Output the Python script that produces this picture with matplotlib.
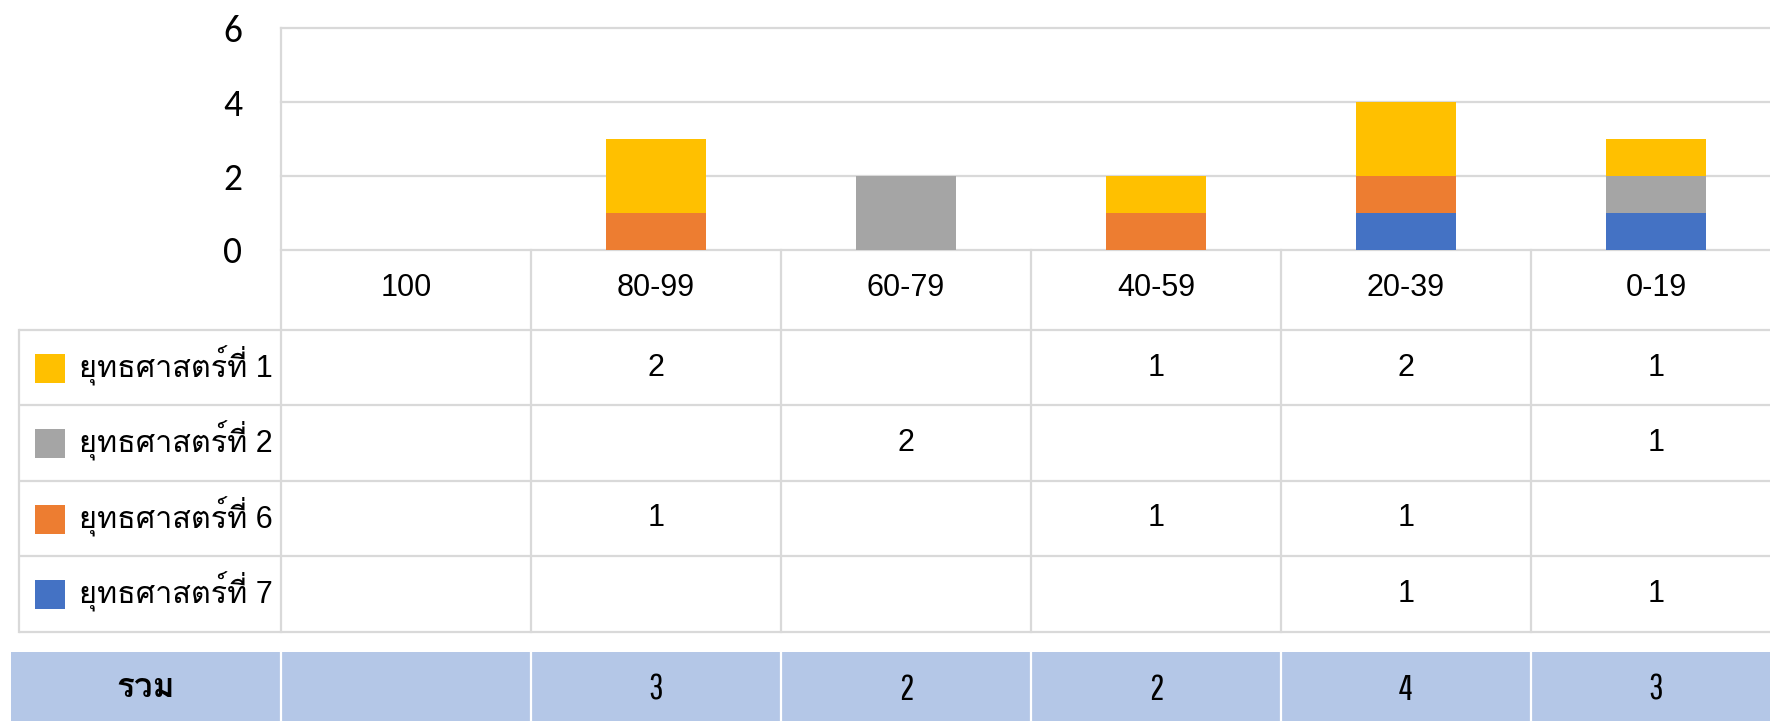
import matplotlib
matplotlib.use("Agg")
import matplotlib.pyplot as plt
from matplotlib import font_manager, transforms
from matplotlib.patches import Rectangle

# ---------------- data ----------------
categories = ["100", "80-99", "60-79", "40-59", "20-39", "0-19"]
series_names = ["ยุทธศาสตร์ที่ 1", "ยุทธศาสตร์ที่ 2", "ยุทธศาสตร์ที่ 6", "ยุทธศาสตร์ที่ 7"]
s1 = [0, 2, 0, 1, 2, 1]
s2 = [0, 0, 2, 0, 0, 1]
s6 = [0, 1, 0, 1, 1, 0]
s7 = [0, 0, 0, 0, 1, 1]
series_values = [s1, s2, s6, s7]
series_colors = ["#FFC000", "#A5A5A5", "#ED7D31", "#4472C4"]
total_label = "รวม"
yticks = [0, 2, 4, 6]

# ---------------- fonts ----------------
available = {f.name for f in font_manager.fontManager.ttflist}
def pick(cands, default="DejaVu Sans"):
    for c in cands:
        if c in available:
            return c
    return default

thai_font = pick(["Loma", "Sarabun", "Noto Sans Thai Looped", "Niramit"])
latin_font = pick(["Liberation Sans", "Arimo", "Noto Sans"])
tick_font = pick(["Carlito", "Lato", "Open Sans"])
cond_font = pick(["Pathway Gothic One", "Roboto Condensed", "Archivo Narrow", "PT Sans Narrow",
                  "Liberation Sans Narrow", "Oswald"], latin_font)

W, H = 1770, 721
fig = plt.figure(figsize=(W / 100, H / 100), dpi=100)

# overlay axes in pixel coordinates (for table frame)
ov = fig.add_axes([0, 0, 1, 1])
ov.set_xlim(0, W)
ov.set_ylim(H, 0)
ov.axis("off")

# bar axes
x0, col_w = 281, 250
y_top, y_zero = 28, 250
ax = fig.add_axes([x0 / W, (H - y_zero) / H, 6 * col_w / W, (y_zero - y_top) / H])
ax.set_facecolor("none")
ax.set_xlim(-0.5, len(categories) - 0.5)
ax.set_ylim(0, 6)

xs = list(range(len(categories)))
# stack order bottom to top: 7, 6, 2, 1
bottom = [0] * len(categories)
for vals, col in zip(reversed(series_values), reversed(series_colors)):
    ax.bar(xs, vals, bottom=bottom, width=0.4, color=col, edgecolor="none", zorder=3)
    bottom = [b + v for b, v in zip(bottom, vals)]

grid_c = "#D9D9D9"
ax.set_yticks(yticks)
ax.set_yticklabels([str(t) for t in yticks], fontfamily=tick_font, fontsize=27, color="#000000")
ax.tick_params(axis="y", length=0, pad=28)
ax.set_xticks([])
ax.yaxis.grid(True, color=grid_c, linewidth=1.6)
for gl in ax.get_ygridlines():
    gl.set_clip_on(False)
ax.set_axisbelow(True)
for s in ["top", "right", "bottom", "left"]:
    ax.spines[s].set_visible(False)

blend = transforms.blended_transform_factory(ax.transData, ov.transData)

# table geometry (pixels)
row_edges = [330, 405, 481, 556, 632]
lw = 1.6
for y in row_edges:
    ov.plot([19, W + 20], [y, y], color=grid_c, lw=lw, solid_capstyle="butt")
ov.plot([19, 19], [row_edges[0], row_edges[-1]], color=grid_c, lw=lw)
for i in range(len(categories) + 1):
    ytop = y_top if i == 0 else y_zero
    ov.plot([i - 0.5, i - 0.5], [ytop, row_edges[-1]], color=grid_c, lw=lw, transform=blend)

# category labels
for i, c in enumerate(categories):
    ov.text(i, 288, c, transform=blend, ha="center", va="center",
            fontfamily=[latin_font, thai_font], fontsize=22, color="#000000")

# legend rows
for r, (name, vals, col) in enumerate(zip(series_names, series_values, series_colors)):
    yc = (row_edges[r] + row_edges[r + 1]) / 2
    ov.add_patch(Rectangle((35, yc - 14), 30, 29, color=col, lw=0))
    ov.text(79, yc - 2, name, ha="left", va="center", fontfamily=[latin_font, thai_font],
            fontsize=22, color="#000000")
    for i, v in enumerate(vals):
        if v:
            ov.text(i, yc, str(v), transform=blend, ha="center", va="center",
                    fontfamily=[latin_font], fontsize=22, color="#000000")

# total row
tot_top, tot_bot = 652, 721
ov.add_patch(Rectangle((11, tot_top), W, tot_bot - tot_top, color="#B4C7E7", lw=0))
for i in range(len(categories) + 1):
    ov.plot([i - 0.5, i - 0.5], [tot_top, tot_bot], color="white", lw=1.6, transform=blend)
ov.text(146, 688, total_label, ha="center", va="center", fontfamily=[thai_font],
        fontweight="bold", fontsize=24, color="#000000")
totals = [sum(v[i] for v in series_values) for i in range(len(categories))]
for i, t in enumerate(totals):
    if t:
        ov.text(i, 689, str(t), transform=blend, ha="center", va="center",
                fontfamily=[cond_font], fontsize=26, color="#000000")

fig.savefig("out.png", dpi=100)
